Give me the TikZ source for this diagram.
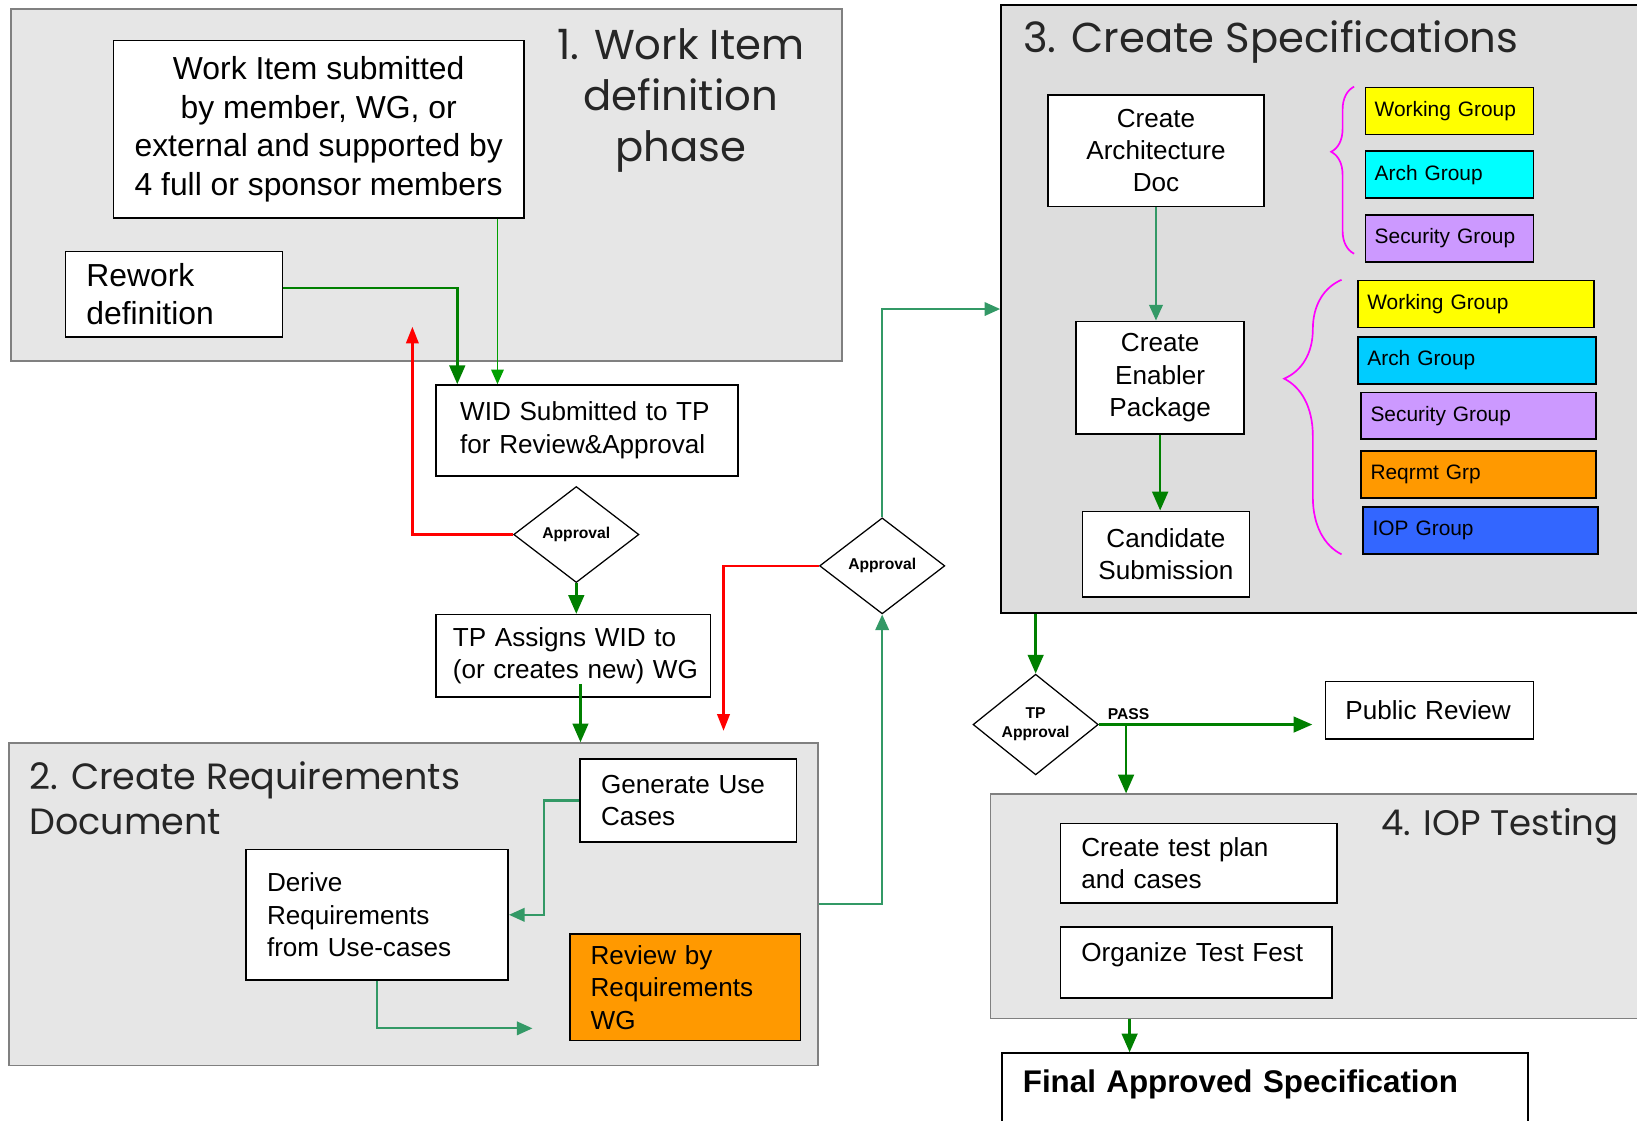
\documentclass[tikz,border=0pt]{standalone}
\usepackage{fontspec}
\setmainfont{Liberation Sans}
\newfontfamily\phasefont{Poppins}
\usepackage{tikz}
\usetikzlibrary{arrows.meta}
\usetikzlibrary{shapes.geometric}
\usetikzlibrary{decorations.pathreplacing}
\usetikzlibrary{positioning}

\definecolor{phasegray}{HTML}{E6E6E6}
\definecolor{specgray}{HTML}{DDDDDD}
\definecolor{darkflow}{HTML}{008000}
\definecolor{lightflow}{HTML}{00A000}
\definecolor{tealflow}{HTML}{339966}
\definecolor{backflow}{HTML}{FF0000}
\definecolor{wgyellow}{HTML}{FFFF00}
\definecolor{archcyan}{HTML}{00FFFF}
\definecolor{archblue}{HTML}{00CCFF}
\definecolor{secpurple}{HTML}{CC99FF}
\definecolor{reqorange}{HTML}{FF9900}
\definecolor{iopblue}{HTML}{3366FF}
\definecolor{bracemag}{HTML}{FF00FF}

\newcommand{\boxtext}{\fontsize{25}{31}\selectfont}
\newcommand{\bigboxtext}{\fontsize{30.5}{37}\selectfont}
\newcommand{\grptext}{\fontsize{20}{24}\selectfont}
\newcommand{\dectext}{\fontsize{15}{18}\selectfont\bfseries}

\tikzstyle{phase}=[draw=gray, line width=1.5, fill=phasegray, anchor=north west, inner sep=0]
\tikzstyle{phasetitle}=[inner sep=0, text=black!85]
\tikzstyle{box}=[draw, line width=1.5, fill=white, inner sep=0, anchor=north west, font=\boxtext]
\tikzstyle{grp}=[draw, line width=1.5, anchor=north west, inner xsep=9, inner ysep=0, minimum height=45, align=left, font=\grptext]
\tikzstyle{decision}=[diamond, draw, line width=1.2, fill=white, minimum width=120, minimum height=92, inner sep=0, font=\dectext, align=center]

\begin{document}
\begin{tikzpicture}[x=1pt, y=-1pt,
	thickflow/.style={draw=darkflow, line width=2.5, -{Triangle[length=18pt, width=15pt]}},
	thinflow/.style={draw=lightflow, line width=1.6, -{Triangle[length=14pt, width=12pt]}},
	tealflow/.style={draw=tealflow, line width=2, -{Triangle[length=15pt, width=13pt]}},
	backflow/.style={draw=backflow, line width=2.2, -{Triangle[length=16pt, width=12pt]}},
	bracestyle/.style={draw=bracemag, line width=1.6, decorate}]
\useasboundingbox (0,0) rectangle (1568,1073);

% phase areas
\node[phase, minimum width=796, minimum height=337] (wip) at (10,8) {};
\node[phase, minimum width=775, minimum height=309] (crd) at (8,711) {};
\node[phase, draw=black, line width=2, fill=specgray, minimum width=640, minimum height=582] (csp) at (958,4) {};
\node[phase, minimum width=650, minimum height=215] (iot) at (948,760) {};

\node[phasetitle, align=center, font=\phasefont\fontsize{40}{49}\selectfont] (wiptitle) at (652,96) {1. Work Item\\definition\\phase};
\node[phasetitle, anchor=west, align=left, font=\phasefont\fontsize{35}{43}\selectfont] (crdtitle) at (28,765) {2. Create Requirements\\Document};
\node[phasetitle, anchor=west, font=\phasefont\fontsize{40}{46}\selectfont] (csptitle) at (980,40) {3. Create Specifications};
\node[phasetitle, anchor=west, font=\phasefont\fontsize{34}{40}\selectfont] (iottitle) at (1323,792) {4. IOP Testing};

% 1. work item
\node[box, align=center, minimum width=393, minimum height=170, font=\bigboxtext] (wis) at (108,38) {Work Item submitted\\by member, WG, or\\external and supported by\\4 full or sponsor members};
\node[box, align=left, inner xsep=20, text width=168, minimum height=82, font=\bigboxtext] (rework) at (62,240) {Rework\\definition};
\node[box, align=left, inner xsep=23, text width=243, minimum height=87] (wid) at (417,368) {WID Submitted to TP\\for Review\&Approval};
\node[decision] (ap1) at (552,512) {Approval};
\node[box, align=left, inner xsep=10, text width=243, minimum height=79] (tpa) at (417,588) {\hspace*{6pt}TP Assigns WID to\\\hspace*{6pt}(or creates new) WG};

% 2. requirements
\node[box, align=left, inner xsep=20, text width=167, minimum height=80] (gen) at (555,726) {Generate Use\\Cases};
\node[box, align=left, inner xsep=20, text width=211, minimum height=125] (drq) at (235,813) {Derive\\Requirements\\from Use-cases};
\node[box, fill=reqorange, align=left, inner xsep=20, text width=181, minimum height=102] (rvw) at (545,894) {Review by\\Requirements\\WG};
\node[decision] (ap2) at (845,542) {Approval};

% 3. specifications
\node[box, align=center, minimum width=207, minimum height=107] (cad) at (1003,90) {Create\\Architecture\\Doc};
\node[box, align=center, minimum width=161, minimum height=108] (cep) at (1030,307) {Create\\Enabler\\Package};
\node[box, align=center, minimum width=160, minimum height=82] (cand) at (1036,489) {Candidate\\Submission};

\node[grp, fill=wgyellow, text width=143] (wg1) at (1307,83) {Working Group};
\node[grp, fill=archcyan, text width=143] (ag1) at (1307,144) {Arch Group};
\node[grp, fill=secpurple, text width=143] (sg1) at (1307,205) {Security Group};
\node[grp, fill=wgyellow, text width=208] (wg2) at (1300,268) {Working Group};
\node[grp, fill=archblue, text width=210] (ag2) at (1300,322) {Arch Group};
\node[grp, fill=secpurple, text width=207] (sg2) at (1303,375) {Security Group};
\node[grp, fill=reqorange, text width=207] (rg2) at (1303,431) {Reqrmt Grp};
\node[grp, fill=iopblue, text width=207] (iog2) at (1305,485) {IOP Group};

\draw[bracestyle, decoration={brace, amplitude=22, aspect=0.61}] (1297,243) -- (1297,83);
\draw[bracestyle, decoration={brace, amplitude=55, aspect=0.64}] (1285,531) -- (1285,268);

% approval and 4. testing
\node[decision] (tpapp) at (992,694) {TP\\Approval};
\node[font=\dectext, inner sep=0] (pass) at (1081,684) {PASS};
\node[box, align=left, inner xsep=19, text width=161, minimum height=55] (pub) at (1269,652) {Public Review};
\node[box, align=left, inner xsep=20, text width=225, minimum height=76] (ctp) at (1015,788) {Create test plan\\and cases};
\node[box, align=left, inner xsep=20, text width=220, minimum height=68, text depth=20] (otf) at (1015,887) {Organize Test Fest};
\node[box, align=left, inner xsep=20, inner ysep=12, text width=464, text height=26, text depth=90, font=\fontsize{30}{34}\selectfont\bfseries] (fas) at (959,1008) {Final Approved Specification};

% connectors
\coordinate (wisdrop) at ([xshift=-26]wis.south east);
\coordinate (backwid) at (395,313);
\coordinate (tpadrop) at (556,655);
\coordinate (backreq) at (693,700);
\coordinate (revend) at (510,985);
\coordinate (pubend) at ([xshift=-12]pub.west);
\coordinate (passdrop) at ([xshift=26]tpapp.east);
\coordinate (finaldrop) at ([xshift=123]fas.north west);

\draw[thickflow] ([yshift=6]rework.east) -| ([xshift=21]wid.north west);
\draw[thinflow] (wisdrop) -- (wisdrop |- wid.north);
\draw[backflow] (ap1.west) -| (backwid);
\draw[thickflow] (ap1.south) -- (ap1.south |- tpa.north);
\draw[thickflow] (tpadrop) -- (tpadrop |- crd.north);
\draw[backflow] (ap2.west) -| (backreq);
\draw[tealflow] (gen.west) -- ++(-34,0) |- (drq.east);
\draw[tealflow] (drq.south) |- (revend);
\draw[tealflow] (crd.east) -| (ap2.south);
\draw[tealflow] (ap2.north) |- (csp.west);
\draw[tealflow] (cad.south) -- (cad.south |- cep.north);
\draw[thickflow] (cep.south) -- (cep.south |- cand.north);
\draw[thickflow] (tpapp.north |- csp.south) -- (tpapp.north);
\draw[thickflow] (tpapp.east) -- (pubend |- tpapp.east);
\draw[thickflow] (passdrop) -- (passdrop |- iot.north);
\draw[thickflow] (finaldrop |- iot.south) -- (finaldrop);
\end{tikzpicture}
\end{document}
